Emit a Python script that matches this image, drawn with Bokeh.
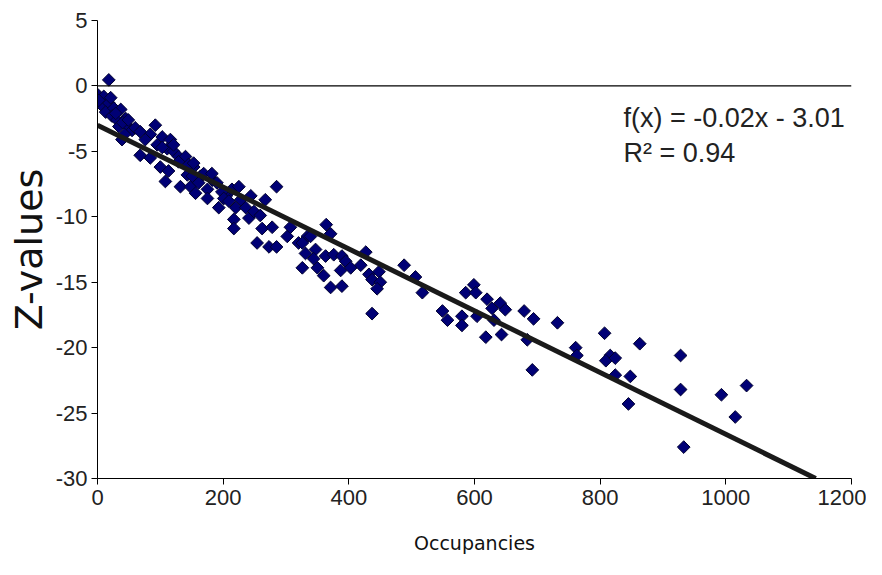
from bokeh.plotting import figure
from bokeh.models import Range1d, FixedTicker, Span, Label
from bokeh.embed import file_html
from bokeh.resources import INLINE
import math

# ---- data ----
occupancies = [
    18, 1, 10, 7, 18, 13, 26, 37, 23, 31, 45, 34, 47, 55, 39, 92, 84, 76, 103, 116,
    95, 68, 84, 111, 121, 100, 113, 108, 129, 140, 153, 143, 132, 148, 159,
    2, 21, 29, 40, 49, 60, 68, 43, 103, 121, 129, 145, 164, 183, 205, 228, 244,
    153, 151, 161, 156, 169, 182, 175, 190, 175, 198, 201, 193, 209, 214, 225, 220,
    236, 217, 217, 241, 249, 259, 267, 262, 278, 285, 254, 273, 285, 302, 307, 320, 334,
    364, 371, 339, 326, 331, 347, 344, 326, 363, 376, 389, 395, 350, 387, 403, 360,
    371, 389, 419, 427, 432, 437, 448, 450, 445, 488, 506, 517, 437, 549, 557,
    599, 586, 602, 580, 580, 604, 620, 628, 641, 649, 631, 618, 643, 679, 694, 732,
    684, 692, 761, 763, 807, 816, 809, 824, 824, 848, 863, 845,
    928, 928, 933, 993, 1033, 1015,
]
z_values = [
    0.46, -0.7, -0.8, -1.5, -1.3, -2.0, -1.7, -1.8, -2.3, -2.6, -2.5, -3.1, -3.0, -3.4, -4.1, -3.0, -3.7, -4.1, -3.9, -4.1,
    -4.5, -5.3, -5.5, -4.8, -5.0, -6.2, -6.5, -7.3, -5.4, -5.4, -6.2, -6.8, -7.7, -7.7, -7.2,
    -1.1, -0.9, -2.1, -2.8, -2.6, -3.2, -3.5, -3.7, -4.7, -4.5, -5.8, -6.0, -6.9, -7.2, -8.4, -8.7, -8.4,
    -5.9, -6.9, -7.4, -8.2, -6.7, -6.7, -7.9, -7.4, -8.6, -8.1, -8.6, -9.3, -8.8, -7.9, -7.7, -9.3,
    -9.3, -10.2, -10.9, -10.1, -9.6, -9.9, -8.7, -10.9, -10.8, -7.7, -12.0, -12.3, -12.3, -11.5, -10.8, -12.0, -11.5,
    -10.6, -11.3, -11.5, -12.0, -12.8, -12.5, -13.2, -13.9, -13.0, -12.9, -13.0, -13.4, -13.9, -14.1, -13.9, -14.5,
    -15.4, -15.3, -13.7, -12.7, -14.4, -14.8, -14.2, -15.0, -15.5, -13.7, -14.6, -15.8, -17.4, -17.2, -17.9,
    -15.2, -15.8, -15.8, -17.6, -18.3, -17.6, -16.3, -17.0, -16.6, -17.1, -17.9, -19.2, -19.0, -17.2, -17.8, -18.1,
    -19.4, -21.7, -20.0, -20.6, -18.9, -20.6, -21.0, -20.8, -22.1, -22.2, -19.7, -24.3,
    -20.6, -23.2, -27.6, -23.6, -22.9, -25.3,
]
fit_x = [0, 1143]
fit_y = [-3.01, -30.0]
x_ticks = [0, 200, 400, 600, 800, 1000, 1200]
y_ticks = [5, 0, -5, -10, -15, -20, -25, -30]
y_tick_labels = ["5", "0", "-5", "-10", "-15", "-20", "-25", "-30"]
equation_text = "f(x) = -0.02x - 3.01"
r2_text = "R\u00b2 = 0.94"

TICK_FONT = "Liberation Sans"

p = figure(width=866, height=559, output_backend="svg", toolbar_location=None,
           x_range=Range1d(0, 1200), y_range=Range1d(-30, 5),
           min_border_left=97, min_border_right=15, min_border_top=20, min_border_bottom=81)
p.outline_line_color = None
p.background_fill_color = "white"
p.xgrid.visible = False
p.ygrid.visible = False

for ax in (p.xaxis[0], p.yaxis[0]):
    ax.axis_line_color = "black"
    ax.axis_line_width = 1
    ax.major_tick_line_color = "black"
    ax.major_tick_out = 6
    ax.major_tick_in = 0
    ax.minor_tick_line_color = None
    ax.major_label_text_font = TICK_FONT
    ax.major_label_text_font_size = "22px"
    ax.major_label_text_color = "#222222"

p.xaxis.ticker = FixedTicker(ticks=x_ticks)
p.yaxis.ticker = FixedTicker(ticks=y_ticks)
p.yaxis.major_label_overrides = dict(zip(y_ticks, y_tick_labels))
p.xaxis.major_label_standoff = 5
p.yaxis.major_label_standoff = 4

p.xaxis.axis_label = "Occupancies"
p.xaxis.axis_label_text_font = "DejaVu Sans"
p.xaxis.axis_label_text_font_style = "normal"
p.xaxis.axis_label_text_font_size = "19px"
p.xaxis.axis_label_text_color = "#111111"
p.xaxis.axis_label_standoff = 24

p.yaxis.axis_label = "Z-values"
p.yaxis.axis_label_text_font = "DejaVu Sans"
p.yaxis.axis_label_text_font_style = "normal"
p.yaxis.axis_label_text_font_size = "38px"
p.yaxis.axis_label_text_color = "#111111"
p.yaxis.axis_label_standoff = 2

p.add_layout(Span(location=0, dimension="width", line_color="black", line_width=1.3))

p.scatter(occupancies, z_values, marker="square", size=9, angle=math.pi / 4,
          fill_color="#000075", line_color="#000030", line_width=1)

p.line(fit_x, fit_y, line_color="#1a1a1a", line_width=5)

p.add_layout(Label(x=837, y=-1.3, text=equation_text, text_baseline="top",
                   text_font="Liberation Sans", text_font_size="27px", text_color="#222222"))
p.add_layout(Label(x=837, y=-4.0, text=r2_text, text_baseline="top",
                   text_font="Liberation Sans", text_font_size="27px", text_color="#222222"))

open("out.html", "w").write(file_html(p, INLINE))
